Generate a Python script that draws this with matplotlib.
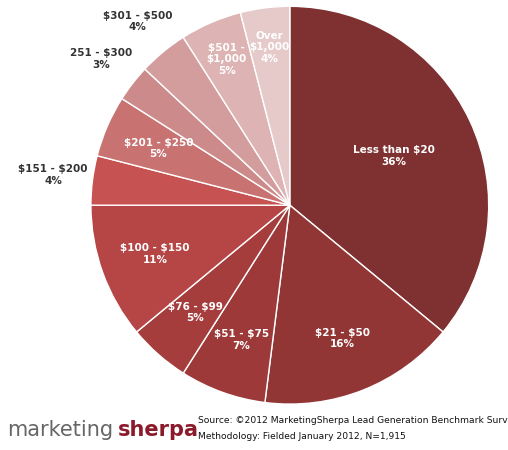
import matplotlib.pyplot as plt
import numpy as np

labels = ['Less than \\$20', '\\$21 - \\$50', '\\$51 - \\$75', '\\$76 - \\$99', '\\$100 - \\$150',
          '\\$151 - \\$200', '\\$201 - \\$250', '251 - \\$300', '\\$301 - \\$500',
          '\\$501 -\n\\$1,000', 'Over\n\\$1,000']
values = [36, 16, 7, 5, 11, 4, 5, 3, 4, 5, 4]
colors = ['#7f3131', '#923535', '#9d3939', '#a63d3d', '#b64545', '#c65252',
          '#c87272', '#cd8a8a', '#d49d9d', '#ddb3b3', '#e6caca']
outside = {5, 7, 8}

fig = plt.figure(figsize=(5.08, 4.5), dpi=100)
ax = fig.add_axes([0.179, 0.102, 0.783, 0.884])
wedges, _ = ax.pie(values, colors=colors, startangle=90, counterclock=False,
                   wedgeprops=dict(edgecolor='white', linewidth=1))
ax.set_xlim(-1, 1)
ax.set_ylim(-1, 1)
ax.set_aspect('equal')

for i, w in enumerate(wedges):
    ang = np.deg2rad((w.theta1 + w.theta2) / 2)
    txt = labels[i] + '\n' + str(values[i]) + '%'
    if i in outside:
        r = 1.2
        ax.text(r * np.cos(ang), r * np.sin(ang), txt, ha='center', va='center',
                fontsize=7.5, fontweight='bold', color='#333333')
    else:
        r = 0.58 if i == 0 else 0.72
        if i >= 9:
            r = 0.8
        ax.text(r * np.cos(ang), r * np.sin(ang), txt, ha='center', va='center',
                fontsize=7.5, fontweight='bold', color='white')

fig.text(0.015, 0.045, 'marketing', fontsize=15, color='#666666', va='center')
fig.text(0.232, 0.045, 'sherpa', fontsize=15, color='#8b1a2b', fontweight='bold', va='center')
fig.text(0.39, 0.066, 'Source: \u00a92012 MarketingSherpa Lead Generation Benchmark Survey',
         fontsize=6.6, color='#111111', va='center')
fig.text(0.39, 0.03, 'Methodology: Fielded January 2012, N=1,915',
         fontsize=6.6, color='#111111', va='center')

fig.savefig('out.png', dpi=100)
